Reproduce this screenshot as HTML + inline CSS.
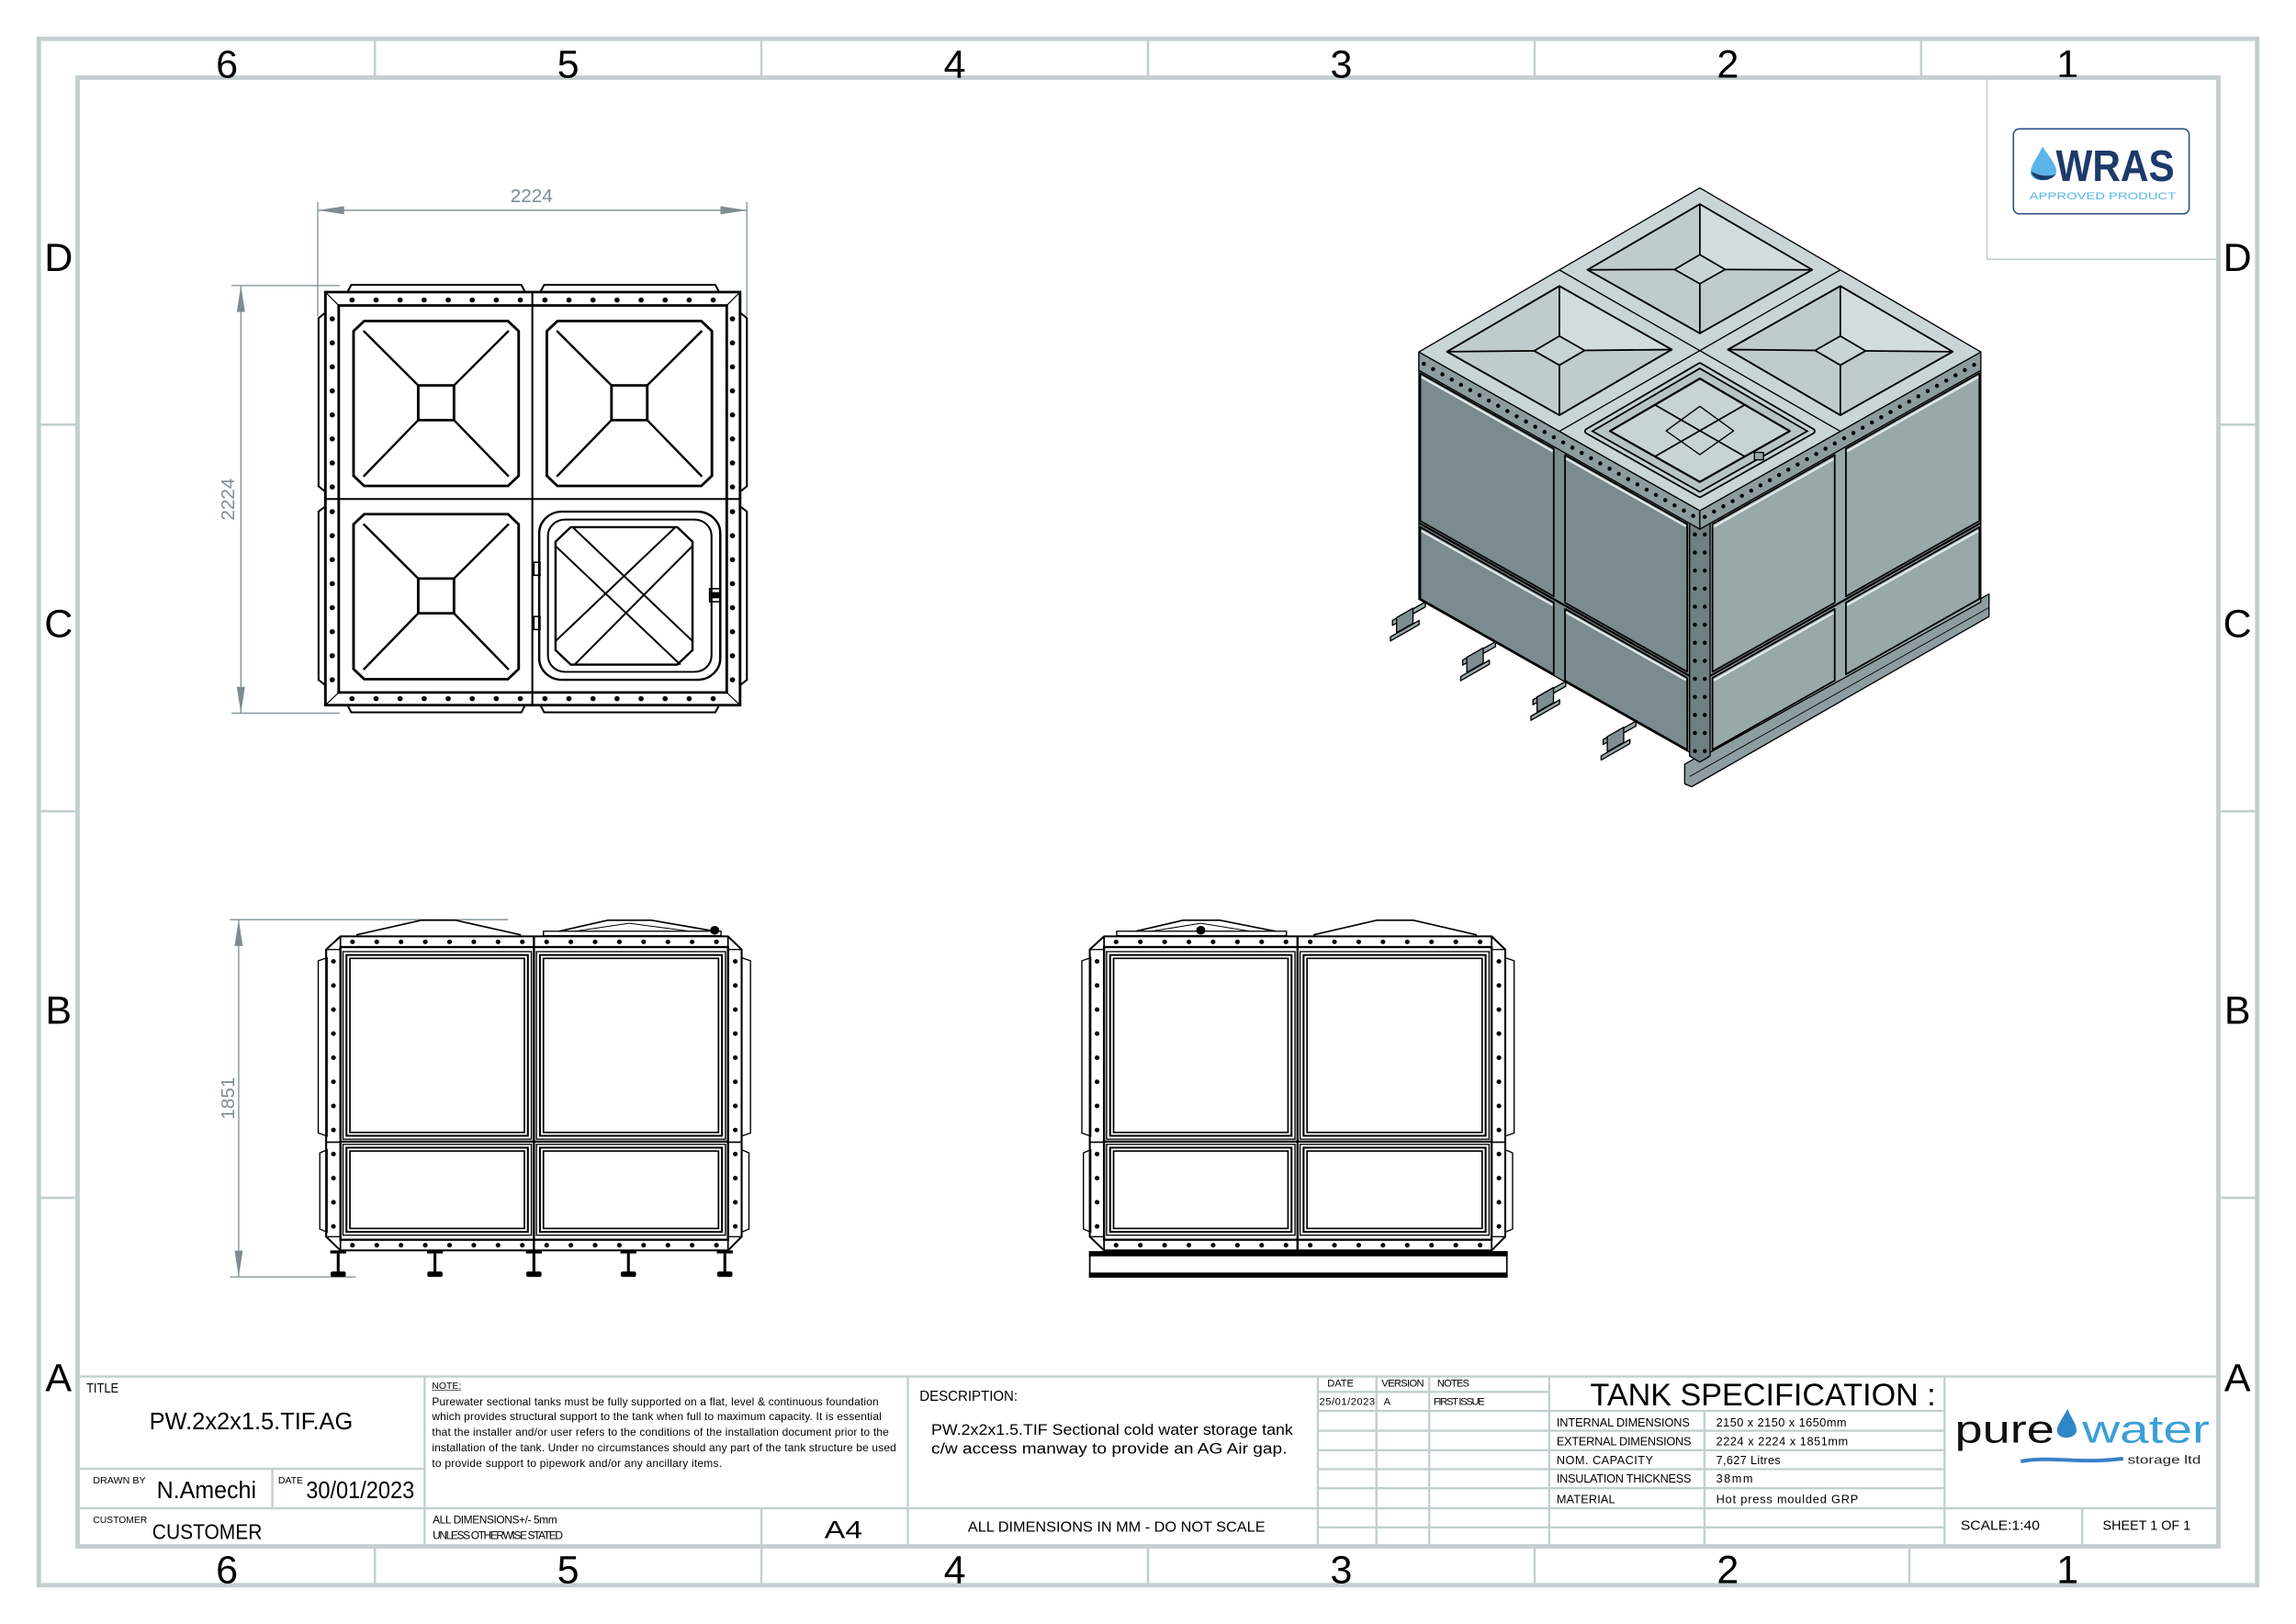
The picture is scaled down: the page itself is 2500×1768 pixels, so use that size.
<!DOCTYPE html>
<html><head><meta charset="utf-8"><style>
html,body{margin:0;padding:0;background:#fff;}
svg{display:block;}
text{font-family:"Liberation Sans",sans-serif;}
</style></head><body>
<svg xmlns="http://www.w3.org/2000/svg" xmlns:xlink="http://www.w3.org/1999/xlink" width="2500" height="1768" viewBox="0 0 1568 1109" preserveAspectRatio="none">
<defs>
<g id="pyr">
<polygon points="472,428 850,428 878,456 878,856 850,884 472,884 444,856 444,456" stroke-width="7"/>
<rect x="614" y="606" width="94" height="96" stroke-width="7"/>
<line x1="470" y1="455" x2="614" y2="606" stroke-width="6"/>
<line x1="852" y1="455" x2="708" y2="606" stroke-width="6"/>
<line x1="470" y1="858" x2="614" y2="702" stroke-width="6"/>
<line x1="852" y1="858" x2="708" y2="702" stroke-width="6"/>
</g>
<g id="sbody">
<polygon points="108,185 80,195 80,760 108,770" stroke-width="4"/>
<polygon points="108,815 85,825 85,1075 108,1085" stroke-width="4"/>
<polygon points="1415,185 1443,195 1443,760 1415,770" stroke-width="4"/>
<polygon points="1415,815 1438,825 1438,1075 1415,1085" stroke-width="4"/>
<polygon points="150,115 1372,115 1415,158 1415,1100 1372,1145 150,1145 105,1100 105,158" stroke-width="6"/>
<rect x="150" y="150" width="1222" height="960" stroke-width="7"/>
<line x1="150" y1="115" x2="150" y2="1145"/><line x1="1372" y1="115" x2="1372" y2="1145"/>
<line x1="105" y1="158" x2="150" y2="158" stroke-width="4"/><line x1="1372" y1="158" x2="1415" y2="158" stroke-width="4"/>
<line x1="105" y1="1100" x2="150" y2="1100" stroke-width="4"/><line x1="1372" y1="1100" x2="1415" y2="1100" stroke-width="4"/>
<line x1="105" y1="790" x2="150" y2="790"/><line x1="1372" y1="790" x2="1415" y2="790"/>
<line x1="760" y1="115" x2="760" y2="1145" stroke-width="7"/>
<line x1="150" y1="788" x2="1372" y2="788" stroke-width="7"/>
<g stroke-width="15" stroke-linecap="round" stroke-dasharray="0 76.5">
<line x1="188" y1="133" x2="724" y2="133"/><line x1="800" y1="133" x2="1336" y2="133"/>
<line x1="188" y1="1128" x2="724" y2="1128"/><line x1="800" y1="1128" x2="1336" y2="1128"/>
</g>
<g stroke-width="15" stroke-linecap="round" stroke-dasharray="0 79">
<line x1="128" y1="197" x2="128" y2="751"/><line x1="1395" y1="197" x2="1395" y2="751"/>
<line x1="128" y1="829" x2="128" y2="1067"/><line x1="1395" y1="829" x2="1395" y2="1067"/>
</g>
<rect x="158" y="165" width="594" height="615" stroke-width="4"/><rect x="169" y="176" width="572" height="593" stroke-width="6"/><rect x="180" y="187" width="550" height="571" stroke-width="5"/>
<rect x="768" y="165" width="596" height="615" stroke-width="4"/><rect x="779" y="176" width="574" height="593" stroke-width="6"/><rect x="790" y="187" width="552" height="571" stroke-width="5"/>
<rect x="158" y="797" width="594" height="298" stroke-width="4"/><rect x="169" y="808" width="572" height="276" stroke-width="6"/><rect x="180" y="819" width="550" height="254" stroke-width="5"/>
<rect x="768" y="797" width="596" height="298" stroke-width="4"/><rect x="779" y="808" width="574" height="276" stroke-width="6"/><rect x="790" y="819" width="552" height="254" stroke-width="5"/>
</g>
<g id="leg">
<rect x="-25" y="1145" width="50" height="10" fill="#000" stroke="none"/>
<line x1="0" y1="1155" x2="0" y2="1215" stroke-width="9"/>
<rect x="-24" y="1214" width="48" height="18" rx="6" fill="#000" stroke="none"/>
</g>
<g id="beam">
<polygon points="-5,-5 -85,40 -85,52 -5,7" fill="#9aa8ab"/>
<polygon points="-35,10 -75,33 -75,70 -35,47" fill="#7e8d91"/>
<polygon points="-20,40 -90,80 -90,90 -20,50" fill="#9aa8ab"/>
</g>
</defs>
<rect width="1568" height="1109" fill="#fff"/>
<!-- frame -->
<g fill="none" stroke="#c3cfcf" stroke-width="3">
<rect x="26.5" y="26.5" width="1515" height="1056"/>
<rect x="53" y="53" width="1462" height="1003"/>
</g>
<g stroke="#c3cfcf" stroke-width="1.6">
<line x1="256" y1="27" x2="256" y2="52"/><line x1="520" y1="27" x2="520" y2="52"/><line x1="784" y1="27" x2="784" y2="52"/><line x1="1048" y1="27" x2="1048" y2="52"/><line x1="1312" y1="27" x2="1312" y2="52"/>
<line x1="256" y1="1057" x2="256" y2="1082"/><line x1="520" y1="1057" x2="520" y2="1082"/><line x1="784" y1="1057" x2="784" y2="1082"/><line x1="1048" y1="1057" x2="1048" y2="1082"/><line x1="1304" y1="1057" x2="1304" y2="1082"/>
<line x1="27" y1="290" x2="52" y2="290"/><line x1="27" y1="554" x2="52" y2="554"/><line x1="27" y1="818" x2="52" y2="818"/>
<line x1="1516" y1="290" x2="1541" y2="290"/><line x1="1516" y1="554" x2="1541" y2="554"/><line x1="1516" y1="818" x2="1541" y2="818"/>
</g>
<g font-size="27" text-anchor="middle" fill="#000">
<text x="155" y="53">6</text><text x="388" y="53">5</text><text x="652" y="53">4</text><text x="916" y="53">3</text><text x="1180" y="53">2</text><text x="1412" y="53">1</text>
<text x="155" y="1081">6</text><text x="388" y="1081">5</text><text x="652" y="1081">4</text><text x="916" y="1081">3</text><text x="1180" y="1081">2</text><text x="1412" y="1081">1</text>
<text x="40" y="185">D</text><text x="40" y="435">C</text><text x="40" y="699">B</text><text x="40" y="950">A</text>
<text x="1528" y="185">D</text><text x="1528" y="435">C</text><text x="1528" y="699">B</text><text x="1528" y="950">A</text>
</g>

<!-- WRAS -->
<rect x="1357" y="53" width="158" height="124" fill="none" stroke="#c3cfcf" stroke-width="1"/>
<rect x="1375" y="88" width="120" height="58" rx="4" fill="none" stroke="#2c4f86" stroke-width="1"/>
<path d="M1395 100 C1390 110 1386 114 1387 119 C1388 124 1400 125 1404 119 C1406 113 1398 106 1395 100Z" fill="#5bb5e8"/>
<path d="M1387 117 C1389 124 1399 125 1404 119 C1398 121 1392 120 1387 117Z" fill="#1d3a6b"/>
<text x="1404" y="123.5" font-size="30" font-weight="bold" fill="#1d3a6b" textLength="81" lengthAdjust="spacingAndGlyphs">WRAS</text>
<text x="1386" y="136" font-size="7" fill="#5bb5e8" textLength="100" lengthAdjust="spacingAndGlyphs">APPROVED PRODUCT</text>

<!-- dimensions -->
<g stroke="#7c8c91" stroke-width="0.8" fill="none">
<line x1="217" y1="143.6" x2="510" y2="143.6"/>
<line x1="217" y1="138" x2="217" y2="216"/><line x1="510" y1="138" x2="510" y2="216"/>
<line x1="164.5" y1="195" x2="164.5" y2="487"/>
<line x1="158" y1="195" x2="232" y2="195"/><line x1="158" y1="487" x2="232" y2="487"/>
<line x1="163" y1="628" x2="163" y2="872"/>
<line x1="157" y1="628" x2="347" y2="628"/><line x1="157" y1="872" x2="243" y2="872"/>
</g>
<g fill="#7c8c91">
<path d="M217 143.6 L235 140.8 L235 146.4Z"/><path d="M510 143.6 L492 140.8 L492 146.4Z"/>
<path d="M164.5 195 L161.7 213 L167.3 213Z"/><path d="M164.5 487 L161.7 469 L167.3 469Z"/>
<path d="M163 628 L160.2 646 L165.8 646Z"/><path d="M163 872 L160.2 854 L165.8 854Z"/>
</g>
<g font-size="13" fill="#7c8c91" text-anchor="middle">
<text x="363" y="138">2224</text>
<text transform="translate(160,341) rotate(-90)">2224</text>
<text transform="translate(160,750) rotate(-90)">1851</text>
</g>

<!-- TOP VIEW -->
<g transform="matrix(0.2598,0,0,0.247,126.1,113.5)" fill="none" stroke="#000" stroke-width="5">
<polygon points="370,405 352,420 352,885 370,900"/>
<polygon points="370,940 352,955 352,1420 370,1435"/>
<polygon points="1460,405 1478,420 1478,885 1460,900"/>
<polygon points="1460,940 1478,955 1478,1420 1460,1435"/>
<polygon points="428,348 438,328 885,328 895,348"/>
<polygon points="935,348 945,328 1395,328 1405,348"/>
<polygon points="428,1490 438,1510 885,1510 895,1490"/>
<polygon points="935,1490 945,1510 1395,1510 1405,1490"/>
<rect x="370" y="348" width="1090" height="1142" stroke-width="7"/>
<rect x="405" y="385" width="1020" height="1070" stroke-width="7"/>
<line x1="914" y1="348" x2="914" y2="1490"/>
<line x1="370" y1="920" x2="1460" y2="920"/>
<line x1="370" y1="348" x2="405" y2="385" stroke-width="3"/><line x1="1460" y1="348" x2="1425" y2="385" stroke-width="3"/>
<line x1="370" y1="1490" x2="405" y2="1455" stroke-width="3"/><line x1="1460" y1="1490" x2="1425" y2="1455" stroke-width="3"/>
<g stroke-width="14" stroke-linecap="round" stroke-dasharray="0 63.2">
<line x1="440" y1="370" x2="883" y2="370"/><line x1="947" y1="370" x2="1390" y2="370"/>
<line x1="440" y1="1472" x2="883" y2="1472"/><line x1="947" y1="1472" x2="1390" y2="1472"/>
</g>
<g stroke-width="14" stroke-linecap="round" stroke-dasharray="0 66.4">
<line x1="388" y1="422" x2="388" y2="888"/><line x1="388" y1="955" x2="388" y2="1421"/>
<line x1="1440" y1="422" x2="1440" y2="888"/><line x1="1440" y1="955" x2="1440" y2="1421"/>
</g>
<use xlink:href="#pyr" href="#pyr"/>
<use xlink:href="#pyr" href="#pyr" x="508"/>
<use xlink:href="#pyr" href="#pyr" y="534"/>
<rect x="932" y="955" width="476" height="465" rx="60" stroke-width="6"/>
<rect x="955" y="977" width="430" height="421" rx="45"/>
<polygon points="1015,998 1295,998 1335,1038 1335,1338 1295,1378 1015,1378 975,1338 975,1038" stroke-width="6"/>
<line x1="1020" y1="998" x2="1335" y2="1313"/><line x1="975" y1="1050" x2="1303" y2="1378"/>
<line x1="1290" y1="998" x2="975" y2="1313"/><line x1="1335" y1="1050" x2="1025" y2="1378"/>
<rect x="1380" y="1168" width="28" height="36" stroke-width="4"/><rect x="1385" y="1180" width="18" height="12" fill="#000"/>
<rect x="918" y="1095" width="16" height="36" stroke-width="4"/><rect x="918" y="1245" width="16" height="36" stroke-width="4"/>
</g>

<!-- SIDE VIEW 1 -->
<g transform="matrix(0.2166,0,0,0.2082,200,615.5)" fill="none" stroke="#000" stroke-width="5">
<use xlink:href="#sbody" href="#sbody"/>
<polyline points="200,110 405,62 513,62 719,110"/>
<rect x="790" y="98" width="560" height="15" stroke-width="4"/>
<polyline points="840,98 993,62 1130,62 1330,98"/>
<polyline points="890,98 1060,72 1250,98" stroke-width="3"/>
<circle cx="1330" cy="95" r="12" fill="#000"/>
<use xlink:href="#leg" href="#leg" x="143"/>
<use xlink:href="#leg" href="#leg" x="448"/>
<use xlink:href="#leg" href="#leg" x="760"/>
<use xlink:href="#leg" href="#leg" x="1058"/>
<use xlink:href="#leg" href="#leg" x="1362"/>
</g>
<!-- SIDE VIEW 2 -->
<g transform="matrix(0.2166,0,0,0.2082,721.5,615.5)" fill="none" stroke="#000" stroke-width="5">
<use xlink:href="#sbody" href="#sbody"/>
<rect x="190" y="98" width="535" height="15" stroke-width="4"/>
<polyline points="250,98 400,62 515,62 690,98"/>
<polyline points="300,98 455,72 610,98" stroke-width="3"/>
<circle cx="455" cy="95" r="12" fill="#000"/>
<polyline points="810,110 1010,62 1125,62 1325,110"/>
<rect x="105" y="1150" width="1315" height="82"/>
<rect x="105" y="1150" width="1315" height="12" fill="#000"/>
<rect x="105" y="1220" width="1315" height="12" fill="#000"/>
</g>

<!-- ISO -->
<g transform="matrix(0.2801,0,0,0.2801,941,112.9)" stroke="#000" stroke-width="3" stroke-linejoin="round">
<use xlink:href="#beam" href="#beam" x="120.6" y="1069.6"/>
<use xlink:href="#beam" href="#beam" x="291.8" y="1166.4"/>
<use xlink:href="#beam" href="#beam" x="463.1" y="1263.1"/>
<use xlink:href="#beam" href="#beam" x="634.3" y="1359.9"/>
<polygon points="748,1460 1490,1045 1490,1100 765,1515 748,1508" fill="#8e9da1"/>
<line x1="760" y1="1490" x2="1490" y2="1078" stroke-width="2"/>
<polygon points="100,455 785,842 785,1445 100,1058" fill="#7b8b8f"/>
<polygon points="785,842 1470,455 1470,1065 785,1445" fill="#98a8ab"/>
<g stroke-width="4">
<polygon points="103.4,506.9 428.8,690.8 428.8,1050.8 103.4,866.9" fill="#7b8b8f"/>
<polygon points="456.2,706.2 754.2,874.6 754.2,1234.6 456.2,1066.2" fill="#7b8b8f"/>
<polygon points="103.4,881.9 428.8,1065.8 428.8,1240.8 103.4,1056.9" fill="#7b8b8f"/>
<polygon points="456.2,1081.2 754.2,1249.6 754.2,1424.6 456.2,1256.2" fill="#7b8b8f"/>
<polygon points="815.8,874.6 1113.8,706.2 1113.8,1066.2 815.8,1234.6" fill="#98a8ab"/>
<polygon points="1141.2,690.8 1466.6,506.9 1466.6,866.9 1141.2,1050.8" fill="#98a8ab"/>
<polygon points="815.8,1249.6 1113.8,1081.2 1113.8,1256.2 815.8,1424.6" fill="#98a8ab"/>
<polygon points="1141.2,1065.8 1466.6,881.9 1466.6,1056.9 1141.2,1240.8" fill="#98a8ab"/>
</g>
<g stroke="#e3eaeb" stroke-width="5">
<line x1="106" y1="516" x2="426" y2="697"/><line x1="459" y1="715" x2="751" y2="880"/>
<line x1="106" y1="891" x2="426" y2="1072"/><line x1="459" y1="1090" x2="751" y2="1255"/>
<line x1="819" y1="881" x2="1111" y2="716"/><line x1="1144" y1="697" x2="1464" y2="516"/>
<line x1="819" y1="1256" x2="1111" y2="1091"/><line x1="1144" y1="1072" x2="1464" y2="891"/>
</g>
<line x1="100" y1="872" x2="785" y2="1259" stroke-width="5"/>
<line x1="785" y1="1259" x2="1470" y2="872" stroke-width="5"/>
<polygon points="760,860 785,875 810,860 810,1440 785,1455 760,1440" fill="#6f7f83"/>
<g stroke-width="10" stroke-linecap="round" stroke-dasharray="0 44">
<line x1="773" y1="900" x2="773" y2="1430"/><line x1="797" y1="900" x2="797" y2="1430"/>
</g>
<polygon points="100,455 785,842 785,887 100,500" fill="#8c9b9f"/>
<polygon points="785,842 1470,455 1470,500 785,887" fill="#8c9b9f"/>
<g stroke-width="10" stroke-linecap="round" stroke-dasharray="0 26">
<line x1="112" y1="484" x2="773" y2="857"/><line x1="797" y1="857" x2="1458" y2="484"/>
</g>
<polygon points="785,55 1470,455 785,842 100,455" fill="#c9d5d6"/>
<line x1="442.5" y1="255" x2="1127.5" y2="648.5"/>
<line x1="1127.5" y1="255" x2="442.5" y2="648.5"/>
<g stroke-width="4">
<polygon points="785,94.7 1059,254.7 785,409.5 511,254.7" fill="#bfcbcd"/>
<polygon points="785,94.7 1059,254.7 846.7,253.9 785,217.9" fill="#d2dcdd" stroke="none"/>
<polygon points="785,94.7 1059,254.7 785,409.5 511,254.7" fill="none"/>
<polygon points="785,217.9 846.7,253.9 785,288.7 723.3,253.9" fill="#c9d4d5"/>
<line x1="785" y1="94.7" x2="785" y2="217.9"/><line x1="1059" y1="254.7" x2="846.7" y2="253.9"/>
<line x1="785" y1="409.5" x2="785" y2="288.7"/><line x1="511" y1="254.7" x2="723.3" y2="253.9"/>

<polygon points="442.5,294.4 716.5,449.15 442.5,609.15 168.5,454.35" fill="#bfcbcd"/>
<polygon points="442.5,294.4 716.5,449.15 504.2,451.2 442.5,416.3" fill="#d2dcdd" stroke="none"/>
<polygon points="442.5,294.4 716.5,449.15 442.5,609.15 168.5,454.35" fill="none"/>
<polygon points="442.5,416.3 504.2,451.2 442.5,487.2 380.9,452.3" fill="#c9d4d5"/>
<line x1="442.5" y1="294.4" x2="442.5" y2="416.3"/><line x1="716.5" y1="449.15" x2="504.2" y2="451.2"/>
<line x1="442.5" y1="609.15" x2="442.5" y2="487.2"/><line x1="168.5" y1="454.35" x2="380.9" y2="452.3"/>

<polygon points="1127.5,294.4 1401.5,454.35 1127.5,609.15 853.5,449.15" fill="#bfcbcd"/>
<polygon points="1127.5,294.4 1401.5,454.35 1189.2,452.3 1127.5,416.3" fill="#d2dcdd" stroke="none"/>
<polygon points="1127.5,294.4 1401.5,454.35 1127.5,609.15 853.5,449.15" fill="none"/>
<polygon points="1127.5,416.3 1189.2,452.3 1127.5,487.2 1065.8,451.2" fill="#c9d4d5"/>
<line x1="1127.5" y1="294.4" x2="1127.5" y2="416.3"/><line x1="1401.5" y1="454.35" x2="1189.2" y2="452.3"/>
<line x1="1127.5" y1="609.15" x2="1127.5" y2="487.2"/><line x1="853.5" y1="449.15" x2="1065.8" y2="451.2"/>
</g>
<polygon points="785,488.2 1059,648.2 785,803 511,648.2" fill="#b7c4c6" stroke-width="16"/>
<polygon points="785,488.2 1059,648.2 785,803 511,648.2" fill="none" stroke="#c4cfd0" stroke-width="8"/>
<polygon points="785,519.9 1004.2,647.9 785,771.8 565.8,647.9" fill="#c8d3d4" stroke-width="5"/>
<line x1="894.6" y1="583.9" x2="675.4" y2="709.9" stroke-width="4"/>
<line x1="675.4" y1="583.9" x2="894.6" y2="709.9" stroke-width="4"/>
<polygon points="785,587.4 867.2,647.4 785,705.4 702.8,647.4" fill="none"/>
<rect x="918" y="700" width="22" height="18" fill="#9aa8ab"/>
</g>

<!-- title block -->
<g stroke="#c3cfcf" stroke-width="1.5" fill="none">
<line x1="53" y1="940" x2="1515" y2="940"/>
<line x1="53" y1="1030" x2="1515" y2="1030"/>
<line x1="53" y1="1003" x2="290" y2="1003"/>
<line x1="290" y1="940" x2="290" y2="1056"/>
<line x1="186" y1="1003" x2="186" y2="1030"/>
<line x1="620" y1="940" x2="620" y2="1056"/>
<line x1="520" y1="1030" x2="520" y2="1056"/>
<line x1="900" y1="940" x2="900" y2="1056"/>
<line x1="940" y1="940" x2="940" y2="1056"/>
<line x1="976" y1="940" x2="976" y2="1056"/>
<line x1="1058" y1="940" x2="1058" y2="1056"/>
<line x1="1164" y1="963" x2="1164" y2="1056"/>
<line x1="1328" y1="940" x2="1328" y2="1056"/>
<line x1="1422" y1="1030" x2="1422" y2="1056"/>
<line x1="900" y1="950.5" x2="1058" y2="950.5"/>
<line x1="900" y1="963.5" x2="1328" y2="963.5"/>
<line x1="900" y1="977" x2="1328" y2="977"/>
<line x1="900" y1="990.3" x2="1328" y2="990.3"/>
<line x1="900" y1="1003.3" x2="1328" y2="1003.3"/>
<line x1="900" y1="1016.3" x2="1328" y2="1016.3"/>
<line x1="900" y1="1043" x2="1328" y2="1043"/>
</g>
<g fill="#000">
<text x="59" y="951" font-size="9" textLength="22" lengthAdjust="spacingAndGlyphs">TITLE</text>
<text x="102" y="976" font-size="16" textLength="139" lengthAdjust="spacingAndGlyphs">PW.2x2x1.5.TIF.AG</text>
<text x="63.5" y="1013" font-size="6.4" textLength="36" lengthAdjust="spacingAndGlyphs">DRAWN BY</text>
<text x="107" y="1023" font-size="16" textLength="68" lengthAdjust="spacingAndGlyphs">N.Amechi</text>
<text x="190" y="1013" font-size="6.4" textLength="17" lengthAdjust="spacingAndGlyphs">DATE</text>
<text x="209" y="1023" font-size="16" textLength="74" lengthAdjust="spacingAndGlyphs">30/01/2023</text>
<text x="63.5" y="1040" font-size="6.4" textLength="37" lengthAdjust="spacingAndGlyphs">CUSTOMER</text>
<text x="104" y="1051" font-size="14.5" textLength="75" lengthAdjust="spacingAndGlyphs">CUSTOMER</text>
<text x="295" y="948.5" font-size="6.4" textLength="20" lengthAdjust="spacingAndGlyphs">NOTE:</text>
<line x1="295" y1="949.5" x2="315" y2="949.5" stroke="#000" stroke-width="0.4"/>
<g font-size="7.5" lengthAdjust="spacingAndGlyphs">
<text x="295" y="959.8" textLength="305">Purewater sectional tanks must be fully supported on a flat, level &amp; continuous foundation</text>
<text x="295" y="969.9" textLength="307">which provides structural support to the tank when full to maximum capacity. It is essential</text>
<text x="295" y="980.3" textLength="312">that the installer and/or user refers to the conditions of the installation document prior to the</text>
<text x="295" y="991.2" textLength="317">installation of the tank. Under no circumstances should any part of the tank structure be used</text>
<text x="295" y="1001.6" textLength="198">to provide support to pipework and/or any ancillary items.</text>
<text x="295.5" y="1040.4" textLength="85">ALL DIMENSIONS+/- 5mm</text>
<text x="295.5" y="1050.9" textLength="89">UNLESS OTHERWISE STATED</text>
</g>
<text x="563" y="1050.5" font-size="17" textLength="26" lengthAdjust="spacingAndGlyphs">A4</text>
<text x="628" y="956.6" font-size="10" textLength="67" lengthAdjust="spacingAndGlyphs">DESCRIPTION:</text>
<text x="636" y="979.7" font-size="10.5" textLength="247" lengthAdjust="spacingAndGlyphs">PW.2x2x1.5.TIF Sectional cold water storage tank</text>
<text x="636" y="992.5" font-size="10.5" textLength="243" lengthAdjust="spacingAndGlyphs">c/w access manway to provide an AG Air gap.</text>
<text x="661" y="1046" font-size="10" textLength="203" lengthAdjust="spacingAndGlyphs">ALL DIMENSIONS IN MM - DO NOT SCALE</text>
<g font-size="7" lengthAdjust="spacingAndGlyphs">
<text x="906.5" y="947" textLength="18">DATE</text>
<text x="943.5" y="947" textLength="29">VERSION</text>
<text x="981.5" y="947" textLength="22">NOTES</text>
<text x="901" y="959.4" textLength="38">25/01/2023</text>
<text x="945" y="959.4">A</text>
<text x="979" y="959.4" textLength="35">FIRST ISSUE</text>
</g>
<text x="1086" y="959.8" font-size="21.5" textLength="236" lengthAdjust="spacingAndGlyphs">TANK SPECIFICATION :</text>
<g font-size="8" lengthAdjust="spacingAndGlyphs">
<text x="1063" y="974" textLength="91">INTERNAL DIMENSIONS</text>
<text x="1063" y="987" textLength="92">EXTERNAL DIMENSIONS</text>
<text x="1063" y="1000" textLength="66">NOM. CAPACITY</text>
<text x="1063" y="1012.5" textLength="92">INSULATION THICKNESS</text>
<text x="1063" y="1026.5" textLength="40">MATERIAL</text>
<text x="1172" y="974" textLength="89">2150 x 2150 x 1650mm</text>
<text x="1172" y="987" textLength="90">2224 x 2224 x 1851mm</text>
<text x="1172" y="1000" textLength="44">7,627 Litres</text>
<text x="1172" y="1012.5" textLength="25">38mm</text>
<text x="1172" y="1026.5" textLength="97">Hot press moulded GRP</text>
</g>
<text x="1339" y="1044.7" font-size="9.5" textLength="54" lengthAdjust="spacingAndGlyphs">SCALE:1:40</text>
<text x="1436" y="1044.7" font-size="9.5" textLength="60" lengthAdjust="spacingAndGlyphs">SHEET 1 OF 1</text>
<text x="1335" y="985" font-size="27" textLength="68" lengthAdjust="spacingAndGlyphs" fill="#111">pure</text>
<text x="1422" y="985" font-size="27" textLength="87" lengthAdjust="spacingAndGlyphs" fill="#3a9fd8">water</text>
<path d="M1412 962 C1408 970 1404 974 1405 978 C1406 983 1416 983 1418 978 C1419 973 1414 968 1412 962Z" fill="#2f86c8"/>
<path d="M1380 998 C1400 994 1420 1000 1450 996" stroke="#3a7fc8" stroke-width="2.5" fill="none"/>
<text x="1453" y="999.5" font-size="8" textLength="50" lengthAdjust="spacingAndGlyphs" fill="#222">storage ltd</text>
</g>
</svg>
</body></html>
